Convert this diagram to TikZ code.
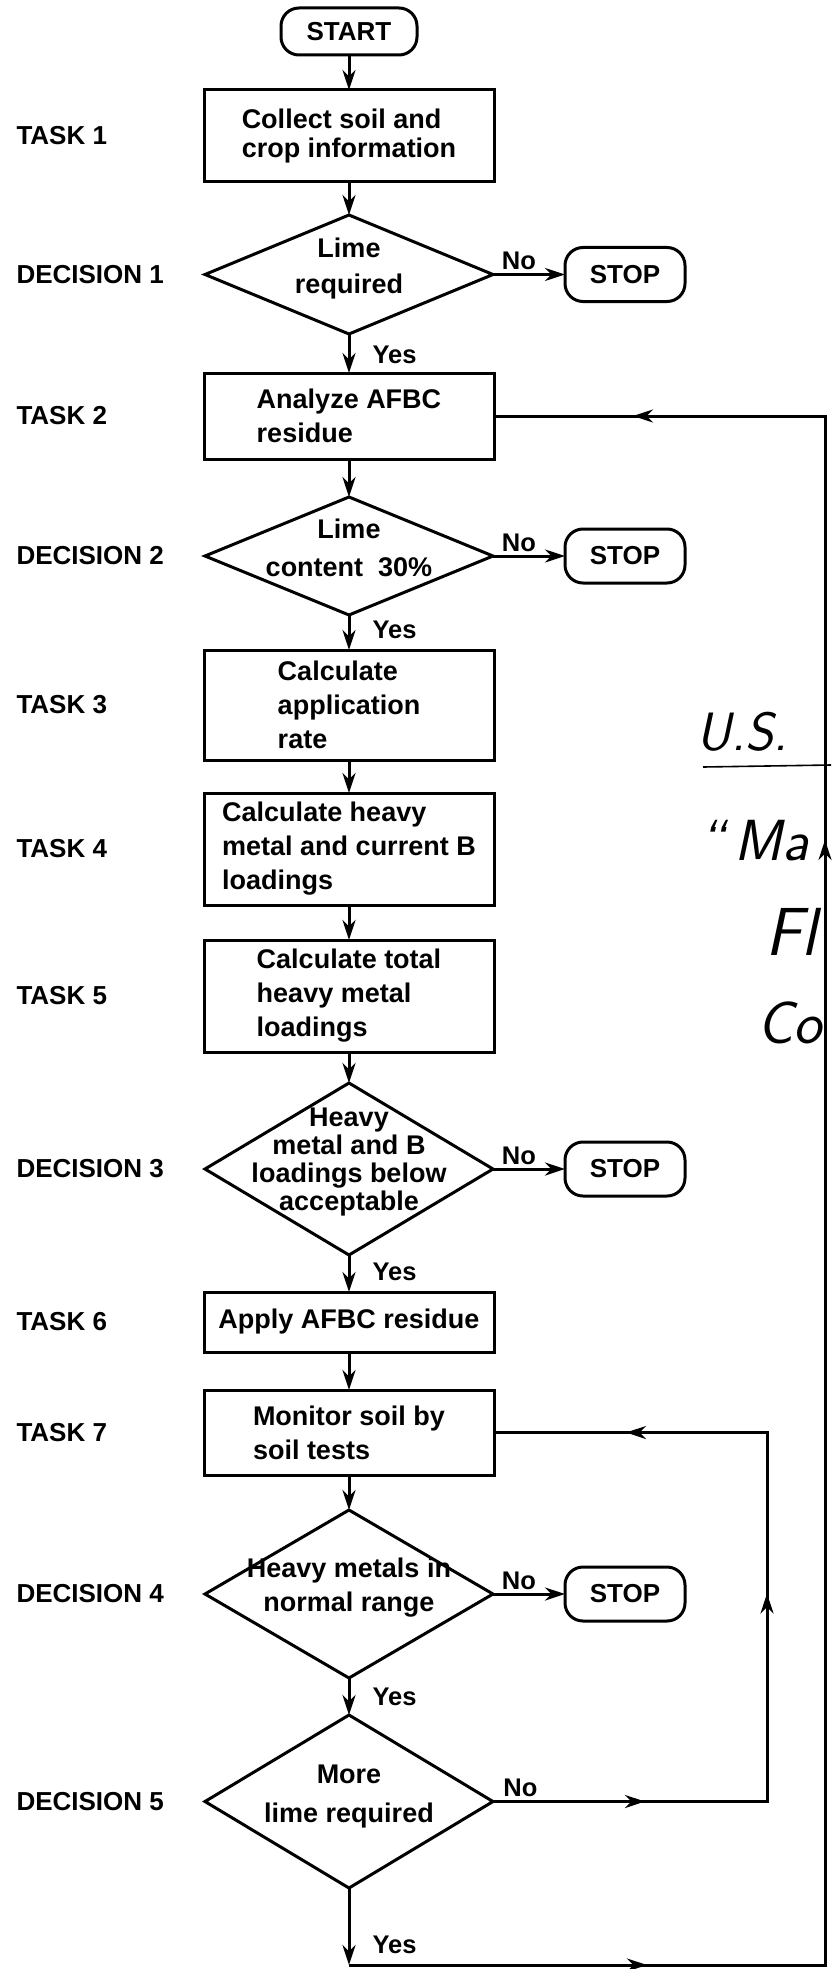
\documentclass[tikz,border=0pt]{standalone}
\usepackage{fontspec}
\setmainfont{Liberation Sans}
\usetikzlibrary{positioning,shapes.geometric,arrows.meta,decorations.markings}

\newcommand{\dtext}[2][34]{\makebox[0pt]{\raisebox{0pt}[0pt][0pt]{\fontsize{27}{#1}\selectfont\begin{tabular}{@{}c@{}}#2\end{tabular}}}}

\begin{document}
\begin{tikzpicture}[x=1pt, y=-1pt, line width=3pt,
	block/.style={rectangle, draw, minimum width=290pt, align=left, inner sep=4pt, outer sep=0pt,
		font=\bfseries\fontsize{27}{34}\selectfont},
	decision/.style={diamond, draw, minimum width=288pt, inner sep=0pt, outer sep=0pt, font=\bfseries},
	term/.style={rectangle, draw, rounded corners=18pt, minimum width=120pt, minimum height=54pt,
		outer sep=0pt, font=\bfseries\fontsize{26}{30}\selectfont},
	side/.style={anchor=west, inner sep=0pt, font=\bfseries\fontsize{26}{30}\selectfont},
	lbl/.style={inner sep=1pt, font=\bfseries\fontsize{25.5}{30}\selectfont},
	hand/.style={anchor=base west, inner sep=0pt, font=\sffamily\slshape\fontsize{#1}{#1}\selectfont},
	line/.style={draw, -{Stealth[length=20pt, width=13pt]}},
	midtip/.style={postaction={decorate, decoration={markings,
		mark=at position #1 with {\arrow{Stealth[length=20pt, width=13pt]}}}}},
	]
	\path[use as bounding box, fill=white] (0,0) rectangle (831,1969);

	\node[term, minimum width=136pt, minimum height=47pt] (start) at (349,31.5) {START};
	\node[block, minimum height=92pt, below=35pt of start, font=\bfseries\fontsize{27}{29}\selectfont] (coll) {Collect soil and\\crop information};
	\node[decision, minimum height=119pt, below=33pt of coll] (lime) {\dtext[36]{Lime\\required}};
	\node[term, right=72pt of lime] (stA) {STOP};
	\node[block, minimum height=86pt, below=39pt of lime] (anal) {Analyze AFBC\\residue};
	\node[decision, minimum height=118pt, below=38pt of anal] (cont) {\dtext[38]{Lime\\content\ \ 30\%}};
	\node[term, right=72pt of cont] (stB) {STOP};
	\node[block, minimum height=110pt, below=35pt of cont] (rate) {Calculate\\application\\rate};
	\node[block, minimum height=112pt, below=33pt of rate] (load) {Calculate heavy\\metal and current B\\loadings};
	\node[block, minimum height=112pt, below=35pt of load] (total) {Calculate total\\heavy metal\\loadings};
	\node[decision, minimum height=172pt, below=31pt of total] (heavy) {\dtext[27.5]{Heavy\\metal and B\\loadings below\\acceptable}};
	\node[term, right=72pt of heavy] (stC) {STOP};
	\node[block, minimum height=60pt, below=37pt of heavy] (apply) {Apply AFBC residue};
	\node[block, minimum height=85pt, below=38pt of apply] (monit) {Monitor soil by\\soil tests};
	\node[decision, minimum height=168pt, below=35pt of monit] (norm) {\dtext[34]{Heavy metals in\\normal range}};
	\node[term, right=72pt of norm] (stD) {STOP};
	\node[decision, minimum height=173pt, below=37pt of norm] (more) {\dtext[39]{More\\lime required}};

	\node[side] (tA) at (15,0 |- coll) {TASK 1};
	\node[side] (dA) at (15,0 |- lime) {DECISION 1};
	\node[side] (tB) at (15,0 |- anal) {TASK 2};
	\node[side] (dB) at (15,0 |- cont) {DECISION 2};
	\node[side] (tC) at (15,0 |- rate) {TASK 3};
	\node[side] (tD) at (15,0 |- load) {TASK 4};
	\node[side] (tE) at (15,0 |- total) {TASK 5};
	\node[side] (dC) at (15,0 |- heavy) {DECISION 3};
	\node[side] (tF) at (15,0 |- apply) {TASK 6};
	\node[side] (tG) at (15,0 |- monit) {TASK 7};
	\node[side] (dD) at (15,0 |- norm) {DECISION 4};
	\node[side] (dE) at (15,0 |- more) {DECISION 5};

	\node[hand=54] (us) at (695,750) {U.S.};
	\draw[line width=1.6pt] (703,767) -- (831,765);
	\node[hand=58] (ma) at (698,860) {“\,Ma};
	\node[hand=68] (fl) at (764,955) {Fl};
	\node[hand=60] (co) at (756,1043) {Co};

	%Pfeile
	\path[line] (start) -- (coll);
	\path[line] (coll) -- (lime);
	\path[line] (lime) -- node[lbl, above=2pt, pos=.36] (noA) {No} (stA);
	\path[line] (lime) -- node[lbl, right=21pt, pos=.54] (yesA) {Yes} (anal);
	\path[line] (anal) -- (cont);
	\path[line] (cont) -- node[lbl, above=2pt, pos=.36] (noB) {No} (stB);
	\path[line] (cont) -- node[lbl, right=21pt, pos=.43] (yesB) {Yes} (rate);
	\path[line] (rate) -- (load);
	\path[line] (load) -- (total);
	\path[line] (total) -- (heavy);
	\path[line] (heavy) -- node[lbl, above=2pt, pos=.36] (noC) {No} (stC);
	\path[line] (heavy) -- node[lbl, right=21pt, pos=.46] (yesC) {Yes} (apply);
	\path[line] (apply) -- (monit);
	\path[line] (monit) -- (norm);
	\path[line] (norm) -- node[lbl, above=2pt, pos=.36] (noD) {No} (stD);
	\path[line] (norm) -- node[lbl, right=21pt, pos=.51] (yesD) {Yes} (more);

	\coordinate (r1) at (767,0 |- more.east);
	\coordinate (r2) at (767,0 |- monit.east);
	\path[draw, midtip=152pt, midtip=482pt, midtip=784pt] (more.east) -- node[lbl, above=2pt, pos=.1] (noE) {No} (r1) -- (r2) -- (monit.east);

	\coordinate (b1) at (more.south |- 0,1965);
	\coordinate (b2) at (825,1965);
	\coordinate (b3) at (825,0 |- anal.east);
	\path[line] (more) -- node[lbl, right=21pt, pos=.74] (yesE) {Yes} (b1);
	\path[draw, midtip=298pt, midtip=1601pt, midtip=2217pt] (b1) -- (b2) -- (b3) -- (anal.east);
\end{tikzpicture}
\end{document}
